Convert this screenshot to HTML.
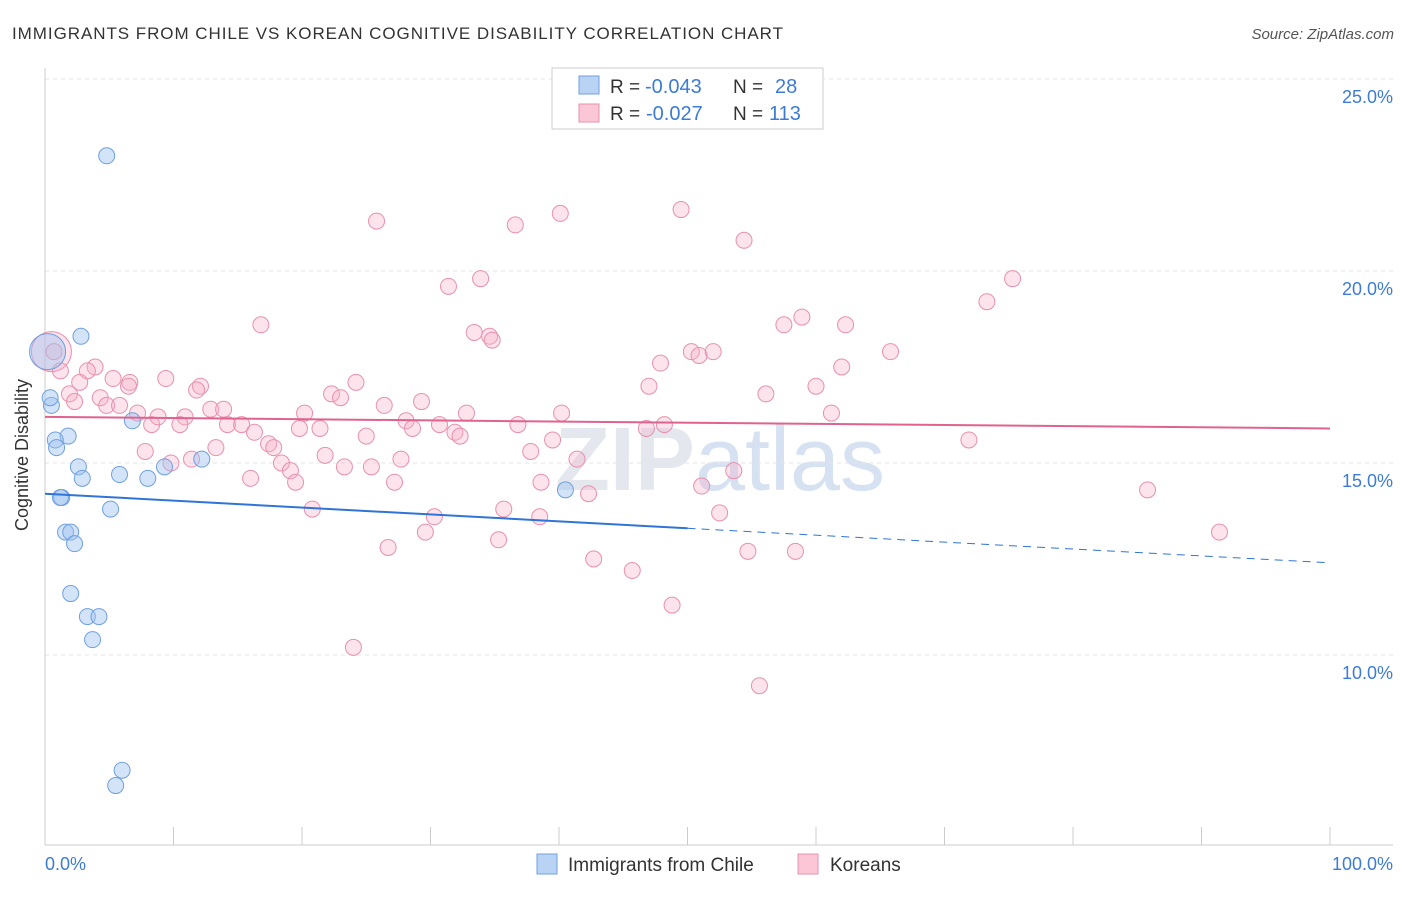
<!DOCTYPE html>
<html><head><meta charset="utf-8"><style>
body{margin:0;background:#fff;font-family:"Liberation Sans",sans-serif;}
svg text{font-family:"Liberation Sans",sans-serif;}
</style></head><body>
<svg id="chart" width="1406" height="892" viewBox="0 0 1406 892">
<text x="12" y="39" font-size="17" fill="#333" textLength="771" lengthAdjust="spacing">IMMIGRANTS FROM CHILE VS KOREAN COGNITIVE DISABILITY CORRELATION CHART</text>
<text x="1394" y="39" font-size="15" fill="#555" text-anchor="end" font-style="italic">Source: ZipAtlas.com</text>
<text x="720" y="490" font-size="90" fill="#e4e8ee" text-anchor="middle" font-weight="bold">ZIP<tspan font-weight="normal" fill="#d6e2f2">atlas</tspan></text>
<g id="grid"></g>
<g id="axes"></g>
<g id="pts"></g>
<g id="trends"></g>
<text x="28" y="455" font-size="18" fill="#333" text-anchor="middle" transform="rotate(-90 28 455)">Cognitive Disability</text>
<text x="45" y="870" font-size="18" fill="#3d7bd6">0.0%</text>
<text x="1393" y="870" font-size="18" fill="#3d7bd6" text-anchor="end">100.0%</text>
<g>
<rect x="552" y="68" width="271" height="61" fill="#fff" stroke="#ccc"/>
<rect x="579" y="76" width="20" height="18" fill="#b9d3f5" stroke="#6f9fe0"/>
<rect x="579" y="104" width="20" height="18" fill="#fbc7d6" stroke="#e890ad"/>
<text x="610" y="93" font-size="19" fill="#333">R =</text>
<text x="645" y="93" font-size="20" fill="#3d7bd6">-0.043</text>
<text x="733" y="93" font-size="19" fill="#333">N =</text>
<text x="775" y="93" font-size="20" fill="#3d7bd6">28</text>
<text x="610" y="120" font-size="19" fill="#333">R =</text>
<text x="646" y="120" font-size="20" fill="#3d7bd6">-0.027</text>
<text x="733" y="120" font-size="19" fill="#333">N =</text>
<text x="769" y="120" font-size="20" fill="#3d7bd6">113</text>
</g>
<g>
<rect x="537" y="854" width="20" height="20" fill="#b9d3f5" stroke="#6f9fe0"/>
<text x="568" y="871" font-size="19" fill="#333">Immigrants from Chile</text>
<rect x="798" y="854" width="20" height="20" fill="#fbc7d6" stroke="#e890ad"/>
<text x="830" y="871" font-size="19" fill="#333">Koreans</text>
</g>
</svg>
<script>
const yTicks=[10,15,20,25];
const yTickLabels=["10.0%","15.0%","20.0%","25.0%"];
const chileX=[4.8,2.8,0.2,0.5,0.4,1.8,0.8,0.9,2.6,2.9,5.8,8.0,9.3,12.2,6.8,1.3,1.2,5.1,1.6,2.0,2.3,2.0,3.3,4.2,3.7,6.0,5.5,40.5];
const chileY=[23.0,18.3,17.9,16.5,16.7,15.7,15.6,15.4,14.9,14.6,14.7,14.6,14.9,15.1,16.1,14.1,14.1,13.8,13.2,13.2,12.9,11.6,11.0,11.0,10.4,7.0,6.6,14.3];
const chileSize=[8,8,18,8,8,8,8,8,8,8,8,8,8,8,8,8,8,8,8,8,8,8,8,8,8,8,8,8];
const korX=[25.8,36.6,40.1,49.5,54.4,33.9,31.4,75.3,73.3,16.8,33.4,34.6,34.8,57.5,58.9,62.3,65.8,50.3,50.9,52.0,47.9,62.0,0.7,1.2,3.9,3.3,5.3,6.6,9.4,12.1,11.8,2.7,1.9,2.3,4.3,4.8,5.8,6.5,7.2,8.3,8.8,10.9,10.5,12.9,13.9,14.2,15.3,16.3,17.4,17.8,19.8,20.2,21.4,22.3,23.0,24.2,26.4,28.1,29.3,28.6,30.7,31.9,32.3,32.8,36.8,39.5,40.2,48.2,46.8,47.0,56.1,60.0,61.2,71.9,7.8,9.8,11.4,13.3,16.0,18.4,19.1,19.5,21.8,23.3,25.4,27.7,27.2,25.0,37.8,41.4,38.6,42.3,51.1,53.6,85.8,20.8,30.3,35.7,38.5,29.6,35.3,26.7,52.5,42.7,45.7,54.7,58.4,91.4,48.8,24.0,55.6];
const korY=[21.3,21.2,21.5,21.6,20.8,19.8,19.6,19.8,19.2,18.6,18.4,18.3,18.2,18.6,18.8,18.6,17.9,17.9,17.8,17.9,17.6,17.5,17.9,17.4,17.5,17.4,17.2,17.1,17.2,17.0,16.9,17.1,16.8,16.6,16.7,16.5,16.5,17.0,16.3,16.0,16.2,16.2,16.0,16.4,16.4,16.0,16.0,15.8,15.5,15.4,15.9,16.3,15.9,16.8,16.7,17.1,16.5,16.1,16.6,15.9,16.0,15.8,15.7,16.3,16.0,15.6,16.3,16.0,15.9,17.0,16.8,17.0,16.3,15.6,15.3,15.0,15.1,15.4,14.6,15.0,14.8,14.5,15.2,14.9,14.9,15.1,14.5,15.7,15.3,15.1,14.5,14.2,14.4,14.8,14.3,13.8,13.6,13.8,13.6,13.2,13.0,12.8,13.7,12.5,12.2,12.7,12.7,13.2,11.3,10.2,9.2];
const chileTrend=[14.2,12.4];
const korTrend=[16.2,15.9];
const NS="http://www.w3.org/2000/svg";
const xs=v=>45+v*12.85;
const ys=v=>79+(25-v)*38.4;
function mk(tag,attrs,parent){const e=document.createElementNS(NS,tag);for(const k in attrs)e.setAttribute(k,attrs[k]);parent.appendChild(e);return e;}
const grid=document.getElementById('grid'),axes=document.getElementById('axes'),pts=document.getElementById('pts'),tr=document.getElementById('trends');
yTicks.forEach((t,i)=>{
 const l=mk('line',{x1:45,x2:1393,y1:ys(t),y2:ys(t),stroke:'#e6e6e6','stroke-dasharray':'4,4'},grid);
 
 
 const tx=mk('text',{x:1393,y:ys(t)+24,'font-size':18,fill:'#3d7bd6','text-anchor':'end'},axes);
 tx.textContent=yTickLabels[i];
 
 
});
let a=mk('line',{x1:45,x2:45,y1:68,y2:845,stroke:'#ccc'},axes);


a=mk('line',{x1:45,x2:1393,y1:845,y2:845,stroke:'#ccc'},axes);


for(let i=0;i<=10;i++){
 const t=mk('line',{x1:xs(i*10),x2:xs(i*10),y1:827,y2:845,stroke:'#ccc'},axes);
 
 
}
let big=mk('circle',{cx:xs(0.5),cy:ys(17.9),r:20,fill:'rgba(247,176,200,0.35)',stroke:'#e890ad','stroke-width':1},pts);


korX.forEach((x,i)=>{
 const c=mk('circle',{cx:xs(x),cy:ys(korY[i]),r:8,fill:'rgba(247,176,200,0.35)',stroke:'#e890ad','stroke-width':1},pts);
 
 
});
chileX.forEach((x,i)=>{
 const c=mk('circle',{cx:xs(x),cy:ys(chileY[i]),r:chileSize[i],fill:'rgba(160,195,240,0.45)',stroke:'#6f9fe0','stroke-width':1},pts);
 
 
});
const cy=x=>chileTrend[0]+(chileTrend[1]-chileTrend[0])*x/100;
let t=mk('line',{x1:xs(0),y1:ys(cy(0)),x2:xs(50),y2:ys(cy(50)),stroke:'#2f74d6','stroke-width':2},tr);


t=mk('line',{x1:xs(50),y1:ys(cy(50)),x2:xs(100),y2:ys(cy(100)),stroke:'#2f74d6','stroke-width':1,'stroke-dasharray':'8,6'},tr);


t=mk('line',{x1:xs(0),y1:ys(korTrend[0]),x2:xs(100),y2:ys(korTrend[1]),stroke:'#e0628f','stroke-width':2},tr);


</script>
</body></html>
